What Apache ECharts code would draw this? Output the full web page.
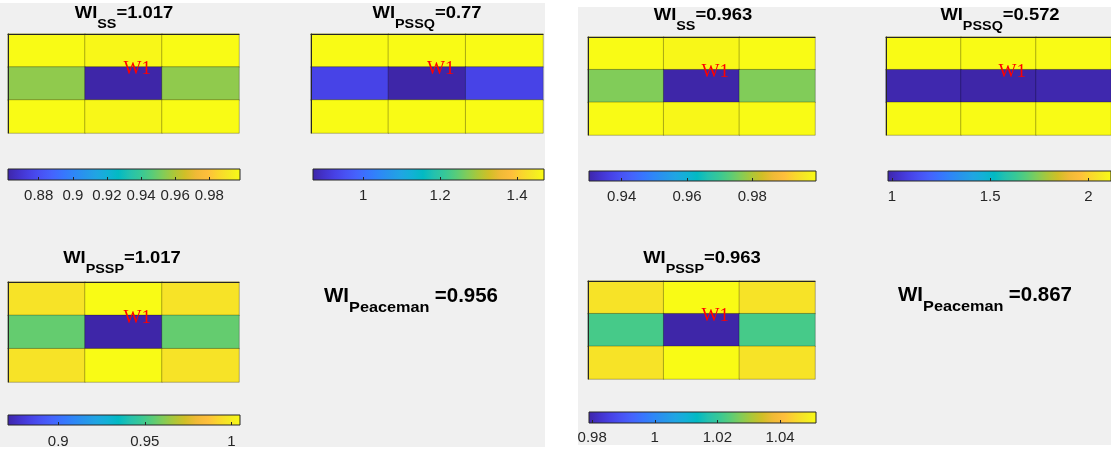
<!DOCTYPE html>
<html>
<head>
<meta charset="utf-8">
<script src="https://cdn.jsdelivr.net/npm/echarts@6/dist/echarts.min.js"></script>
<style>
html,body{margin:0;padding:0;background:#ffffff;}
#chart{width:1111px;height:449px;}
</style>
</head>
<body>
<div id="chart"></div>
<script>
// ---------------- data ----------------
const wellName = 'W1';
const gridCols = ['1', '2', '3'];
const gridRows = ['1', '2', '3'];

// rows listed top to bottom
const leftSS    = [[0.998, 0.9965, 0.998], [0.955, 0.862, 0.955], [0.998, 0.9965, 0.998]];
const leftPSSQ  = [[1.47, 1.47, 1.47], [0.93, 0.87, 0.93], [1.47, 1.47, 1.47]];
const leftPSSP  = [[0.9965, 1.005, 0.9965], [0.956, 0.871, 0.956], [0.9965, 1.005, 0.9965]];
const rightSS   = [[0.9995, 0.9988, 0.9995], [0.9763, 0.930, 0.9763], [0.9995, 0.9988, 0.9995]];
const rightPSSQ = [[2.115, 2.115, 2.115], [0.989, 0.98, 0.989], [2.115, 2.115, 2.115]];
const rightPSSP = [[1.047, 1.0515, 1.047], [1.0221, 0.979, 1.0221], [1.047, 1.0515, 1.047]];

const leftSSTicks    = [0.88, 0.9, 0.92, 0.94, 0.96, 0.98];
const leftPSSQTicks  = [1, 1.2, 1.4];
const leftPSSPTicks  = [0.9, 0.95, 1];
const rightSSTicks   = [0.94, 0.96, 0.98];
const rightPSSQTicks = [1, 1.5, 2];
const rightPSSPTicks = [0.98, 1, 1.02, 1.04];

const titleSubs   = ['SS', 'PSSQ', 'PSSP', 'SS', 'PSSQ', 'PSSP'];
const titleValues = ['1.017', '0.77', '1.017', '0.963', '0.572', '0.963'];
const peacemanValues = ['0.956', '0.867'];

// MATLAB parula colormap
const parula = ['#3e26a8','#4332cb','#4741e5','#4852f4','#4563fd','#3875fe','#2e87f7','#2796eb',
  '#20a5e3','#12b1d6','#02bac3','#24c1ae','#37c897','#57cc7a','#81cc59','#abc739','#d1bf27',
  '#f0ba36','#febe3c','#fad62d','#f5e924','#f9fb15'];

// ---------------- layout (styles) ----------------
const FONT = 'Liberation Sans, Arial, Helvetica, sans-serif';
const plots = [
  {values: leftSS,    ticks: leftSSTicks,    heat: [8, 34, 231, 99],   cb: [8, 169, 232, 11],   title: [124, 6],   lm: 8},
  {values: leftPSSQ,  ticks: leftPSSQTicks,  heat: [311, 34, 232, 99], cb: [313, 169, 231, 11], title: [427, 6],   lm: 8},
  {values: leftPSSP,  ticks: leftPSSPTicks,  heat: [8, 282, 231, 100], cb: [8, 415, 232, 12],   title: [122, 251], lm: 9},
  {values: rightSS,   ticks: rightSSTicks,   heat: [588, 37, 227, 98], cb: [589, 171, 227, 10], title: [703, 8],   lm: 8},
  {values: rightPSSQ, ticks: rightPSSQTicks, heat: [886, 37, 229, 98], cb: [888, 171, 227, 10], title: [1000, 8],  lm: 8},
  {values: rightPSSP, ticks: rightPSSPTicks, heat: [588, 281, 227, 98], cb: [589, 412, 227, 11], title: [702, 251], lm: 7}
];
const peacemanPos = [[411, 287], [985, 286]];

const chart = echarts.init(document.getElementById('chart'), null, {renderer: 'canvas'});

const grids = [], xAxes = [], yAxes = [], series = [], visualMaps = [];
const gradStops = parula.map((c, i) => ({offset: i / (parula.length - 1), color: c}));

plots.forEach((p, i) => {
  const flat = p.values.flat();
  const vmin = Math.min(...flat), vmax = Math.max(...flat);
  // heatmap grid
  grids.push({left: p.heat[0], top: p.heat[1], width: p.heat[2], height: p.heat[3], containLabel: false});
  xAxes.push({gridIndex: 2 * i, type: 'category', data: gridCols, position: 'top', z: 5,
    axisLine: {show: true, lineStyle: {color: '#262626', width: 1}}, axisTick: {show: false},
    axisLabel: {show: false}, splitLine: {show: false}});
  yAxes.push({gridIndex: 2 * i, type: 'category', data: gridRows, inverse: true, z: 5,
    axisLine: {show: true, lineStyle: {color: '#262626', width: 1}}, axisTick: {show: false},
    axisLabel: {show: false}, splitLine: {show: false}});
  // colorbar grid
  grids.push({left: p.cb[0], top: p.cb[1], width: p.cb[2], height: p.cb[3], containLabel: false});
  xAxes.push({gridIndex: 2 * i + 1, type: 'value', min: vmin, max: vmax, position: 'bottom', z: 5,
    axisLine: {show: false},
    axisTick: {show: true, inside: true, length: 3, customValues: p.ticks, lineStyle: {color: '#262626', width: 1}},
    axisLabel: {customValues: p.ticks, margin: p.lm, fontSize: 15, color: '#262626', fontFamily: FONT},
    splitLine: {show: false}});
  yAxes.push({gridIndex: 2 * i + 1, type: 'value', min: 0, max: 1, show: false});

  const items = [];
  p.values.forEach((row, r) => row.forEach((v, c) => {
    const item = {value: [c, r, v]};
    if (r === 1 && c === 1) {
      item.label = {show: true, formatter: wellName, color: '#ff0000', fontFamily: 'Liberation Serif, Times New Roman, serif',
        fontSize: 19, align: 'left', verticalAlign: 'middle', offset: [0, -14]};
    }
    items.push(item);
  }));
  series.push({type: 'heatmap', xAxisIndex: 2 * i, yAxisIndex: 2 * i, data: items, silent: true,
    label: {show: false},
    itemStyle: {borderColor: 'rgba(0,0,0,0.28)', borderWidth: 1},
    emphasis: {disabled: true}});
  visualMaps.push({type: 'continuous', show: false, seriesIndex: series.length - 1, dimension: 2,
    min: vmin, max: vmax, inRange: {color: parula}});
  series.push({type: 'custom', xAxisIndex: 2 * i + 1, yAxisIndex: 2 * i + 1, silent: true, clip: false,
    data: [[vmin, vmax]], encode: {x: [0, 1]},
    renderItem: function (params, api) {
      const p0 = api.coord([api.value(0), 0]);
      const p1 = api.coord([api.value(1), 1]);
      return {type: 'rect', shape: {x: p0[0], y: p1[1], width: p1[0] - p0[0], height: p0[1] - p1[1]},
        style: {fill: new echarts.graphic.LinearGradient(0, 0, 1, 0, gradStops), stroke: '#262626', lineWidth: 1}};
    }});
});

const graphics = [
  {type: 'rect', z: -10, shape: {x: 0, y: 3, width: 545, height: 444}, style: {fill: '#f0f0f0'}},
  {type: 'rect', z: -10, shape: {x: 578, y: 7, width: 533, height: 438}, style: {fill: '#f0f0f0'}}
];
plots.forEach((p, i) => {
  graphics.push({type: 'text', x: p.title[0], y: p.title[1], scaleX: 1.15, z: 10,
    style: {text: '{m|WI}{s|' + titleSubs[i] + '}{m|=' + titleValues[i] + '}', align: 'center', verticalAlign: 'top',
      rich: {
        m: {fontSize: 16, fontWeight: 'bold', fontFamily: FONT, lineHeight: 16, verticalAlign: 'top', fill: '#000', color: '#000'},
        s: {fontSize: 12.5, fontWeight: 'bold', fontFamily: FONT, lineHeight: 13, verticalAlign: 'top', padding: [12, 0, 0, 0], fill: '#000', color: '#000'}
      }}});
});
peacemanValues.forEach((v, i) => {
  graphics.push({type: 'text', x: peacemanPos[i][0], y: peacemanPos[i][1], scaleX: 1.05, z: 10,
    style: {text: '{m|WI}{s|Peaceman}{m|=' + v + '}', align: 'center', verticalAlign: 'top',
      rich: {
        m: {fontSize: 19.5, fontWeight: 'bold', fontFamily: FONT, lineHeight: 20, verticalAlign: 'top', fill: '#000', color: '#000'},
        s: {fontSize: 15.5, fontWeight: 'bold', fontFamily: FONT, lineHeight: 16, verticalAlign: 'top', padding: [13, 5, 0, 0], fill: '#000', color: '#000'}
      }}});
});

chart.setOption({
  animation: false,
  backgroundColor: '#ffffff',
  textStyle: {fontFamily: FONT},
  grid: grids,
  xAxis: xAxes,
  yAxis: yAxes,
  visualMap: visualMaps,
  series: series,
  graphic: {elements: graphics}
});
</script>
</body>
</html>
